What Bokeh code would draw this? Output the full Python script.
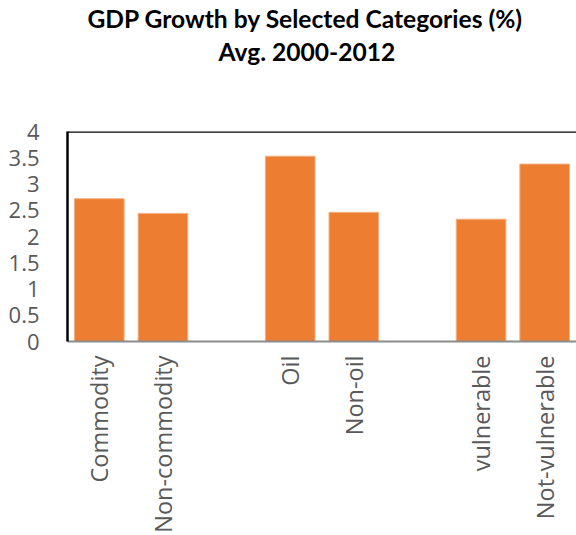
import math
from bokeh.plotting import figure
from bokeh.models import (ColumnDataSource, FactorRange, Range1d, FixedTicker,
                          NumeralTickFormatter, Span, Title)
from bokeh.embed import file_html
from bokeh.resources import INLINE

# Data
slots = ["Commodity", "Non-commodity", " ", "Oil", "Non-oil", "  ",
         "vulnerable", "Not-vulnerable"]
categories = ["Commodity", "Non-commodity", "Oil", "Non-oil",
              "vulnerable", "Not-vulnerable"]
growth = [2.72, 2.44, 3.53, 2.46, 2.33, 3.38]
y_ticks = [0, 0.5, 1, 1.5, 2, 2.5, 3, 3.5, 4]
title_lines = ["GDP Growth by Selected Categories (%)", "Avg. 2000-2012"]

src = ColumnDataSource(dict(cat=categories, val=growth))

p = figure(width=576, height=535, x_range=FactorRange(*slots),
           y_range=Range1d(0, 4), output_backend="svg", toolbar_location=None,
           min_border_left=67, min_border_right=0, min_border_top=0,
           min_border_bottom=194)
p.title = None

p.vbar(x="cat", top="val", width=0.78, source=src, fill_color="#ED7D31",
       line_color="#F4B183", line_width=1)

p.outline_line_color = None
p.grid.grid_line_color = None
p.background_fill_color = "white"
p.border_fill_color = "white"

spacer = Title(text=" ", text_font_size="10px", standoff=52)
t2 = Title(text=title_lines[1], align="left", offset=151,
           text_font="Lato", text_font_style="bold",
           text_font_size="24.6px", text_color="black", standoff=2)
t1 = Title(text=title_lines[0], align="left", offset=20,
           text_font="Lato", text_font_style="bold",
           text_font_size="24.6px", text_color="black", standoff=2)
p.add_layout(spacer, "above")
p.add_layout(t2, "above")
p.add_layout(t1, "above")

p.yaxis.ticker = FixedTicker(ticks=y_ticks)
p.yaxis.formatter = NumeralTickFormatter(format="0.[0]")
p.yaxis.axis_line_color = "black"
p.yaxis.axis_line_width = 2.5
p.yaxis.major_tick_line_color = None
p.yaxis.minor_tick_line_color = None
p.yaxis.major_label_text_font = "Open Sans"
p.yaxis.major_label_text_font_size = "22px"
p.yaxis.major_label_text_color = "#595959"
p.yaxis.major_label_standoff = 22

p.xaxis.axis_line_color = "#8c8c8c"
p.xaxis.axis_line_width = 2
p.xaxis.major_tick_line_color = None
p.xaxis.minor_tick_line_color = None
p.xaxis.major_label_orientation = math.pi / 2
p.xaxis.major_label_text_font = "Open Sans"
p.xaxis.major_label_text_font_size = "23.5px"
p.xaxis.major_label_text_color = "#595959"
p.xaxis.major_label_standoff = 8

p.add_layout(Span(location=4, dimension="width", line_color="black",
                  line_width=2.5))

open("out.html", "w").write(file_html(p, INLINE))
